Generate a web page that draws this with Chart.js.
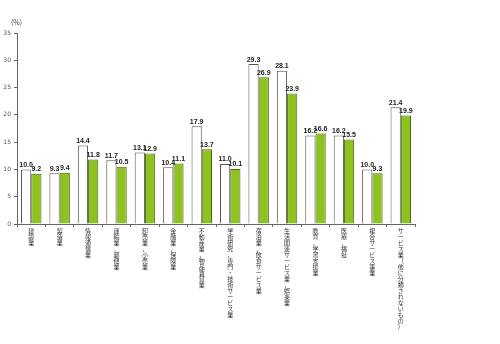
<!DOCTYPE html>
<html><head><meta charset="utf-8">
<script src="https://cdn.jsdelivr.net/npm/chart.js@4"></script>
<style>html,body{margin:0;padding:0;background:#fff}#wrap{width:500px;height:344px;position:relative}</style>
</head><body><div id="wrap"><canvas id="c" width="500" height="344"></canvas></div>
<script>
const categories = ["建設業","製造業","情報通信業","運輸業，郵便業","卸売業，小売業","金融業，保険業","不動産業，物品賃貸業","学術研究，専門・技術サービス業","宿泊業，飲食サービス業","生活関連サービス業，娯楽業","教育，学習支援業","医療，福祉","複合サービス事業","サービス業（他に分類されないもの）"];
const seriesA = [10.0, 9.3, 14.4, 11.7, 13.1, 10.4, 17.9, 11.0, 29.3, 28.1, 16.2, 16.2, 10.0, 21.4];
const seriesB = [9.2, 9.4, 11.8, 10.5, 12.9, 11.1, 13.7, 10.1, 26.9, 23.9, 16.6, 15.5, 9.3, 19.9];
const yTicks = [0, 5, 10, 15, 20, 25, 30, 35];

const labelPlugin = {
  id: 'vals',
  afterDatasetsDraw(chart) {
    const ctx = chart.ctx;
    ctx.save();
    ctx.font = 'bold 7px "Liberation Sans", sans-serif';
    ctx.fillStyle = '#222';
    ctx.textAlign = 'center';
    ctx.textBaseline = 'bottom';
    chart.data.datasets.forEach((ds, di) => {
      chart.getDatasetMeta(di).data.forEach((el, i) => {
        ctx.fillText(ds.data[i].toFixed(1), el.x, el.y - 1);
      });
    });
    ctx.font = '7px "Noto Sans CJK JP", sans-serif';
    ctx.fillStyle = '#444';
    ctx.textAlign = 'left';
    ctx.textBaseline = 'middle';
    ctx.fillText('(%)', 11, 22);
    ctx.restore();
  }
};

new Chart(document.getElementById('c'), {
  type: 'bar',
  data: {
    labels: categories.map(s => Array.from(s)),
    datasets: [
      { data: seriesA, backgroundColor: '#ffffff', borderColor: '#555', borderWidth: 1, barPercentage: 1, categoryPercentage: 0.72 },
      { data: seriesB, backgroundColor: '#8dc21f', borderColor: '#4a6a10', borderWidth: 1, barPercentage: 1, categoryPercentage: 0.72 }
    ]
  },
  options: {
    responsive: false,
    animation: false,
    layout: { padding: { top: 33, right: 85, left: 0, bottom: 0 } },
    plugins: { legend: { display: false }, tooltip: { enabled: false } },
    scales: {
      x: {
        offset: true,
        grid: { display: true, drawOnChartArea: false, tickLength: 3, color: '#666', offset: true },
        border: { color: '#666' },
        ticks: { autoSkip: false, maxRotation: 0, minRotation: 0, padding: 1, color: '#333',
          font: { family: '"Noto Sans CJK JP", sans-serif', size: 6, lineHeight: 1 } },
        afterFit(s) { s.height = 120; }
      },
      y: {
        min: 0, max: 35,
        afterBuildTicks(s) { s.ticks = yTicks.map(v => ({ value: v })); },
        grid: { display: true, drawOnChartArea: false, tickLength: 3, color: '#666' },
        border: { color: '#666' },
        ticks: { padding: 3, color: '#555', font: { family: '"DejaVu Sans", sans-serif', size: 6 } },
        afterFit(s) { s.width = 17; }
      }
    }
  },
  plugins: [labelPlugin]
});
</script></body></html>
